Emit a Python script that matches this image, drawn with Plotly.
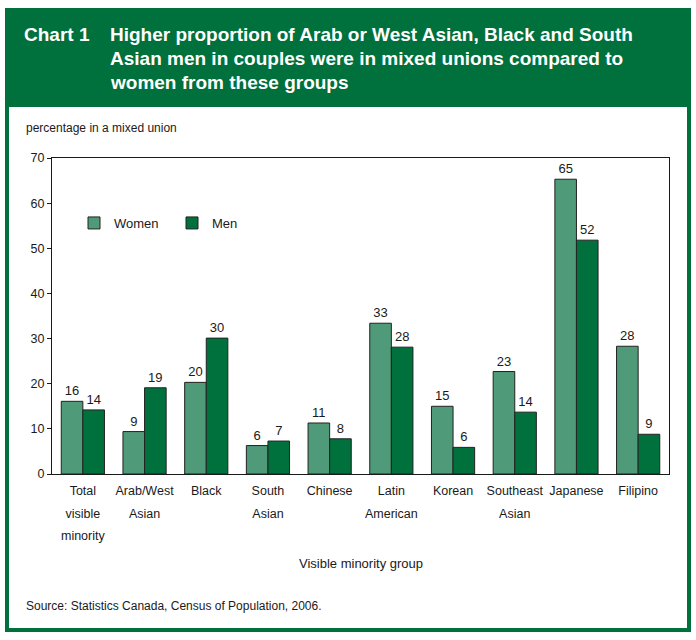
import plotly.graph_objects as go

categories = ["Total<br>visible<br>minority", "Arab/West<br>Asian", "Black", "South<br>Asian",
              "Chinese", "Latin<br>American", "Korean", "Southeast<br>Asian", "Japanese", "Filipino"]
women = [16.1, 9.4, 20.3, 6.3, 11.3, 33.4, 15.0, 22.7, 65.3, 28.3]
men = [14.2, 19.1, 30.1, 7.3, 7.8, 28.1, 5.9, 13.7, 51.8, 8.8]
women_labels = ["16", "9", "20", "6", "11", "33", "15", "23", "65", "28"]
men_labels = ["14", "19", "30", "7", "8", "28", "6", "14", "52", "9"]
y_ticks = [0, 10, 20, 30, 40, 50, 60, 70]
title_lines = ["Higher proportion of Arab or West Asian, Black and South",
               "Asian men in couples were in mixed unions compared to",
               "women from these groups"]

W, H = 696, 640
L, R, T, B = 52, 669, 158, 474
FONT = "Liberation Sans, Arial, sans-serif"
GREEN = "#00703C"
LIGHT = "#4F9A78"
INK = "#1a1a1a"


def px(x):
    return (x - L) / (R - L)


def py(y):
    return (B - y) / (B - T)


def small_lines(label, size=12.5):
    return "<br>".join('<span style="font-size:%spx">%s</span>' % (size, part) for part in label.split("<br>"))


fig = go.Figure()
fig.add_trace(go.Bar(x=categories, y=women, name="Women", marker=dict(color=LIGHT, line=dict(color="#222", width=1)),
                     text=women_labels, textposition="outside", cliponaxis=False,
                     textfont=dict(size=13, color=INK, family=FONT)))
fig.add_trace(go.Bar(x=categories, y=men, name="Men", marker=dict(color=GREEN, line=dict(color="#222", width=1)),
                     text=men_labels, textposition="outside", cliponaxis=False,
                     textfont=dict(size=13, color=INK, family=FONT)))

shapes = [
    dict(type="rect", xref="paper", yref="paper", x0=px(5), x1=px(691), y0=py(107), y1=py(8),
         fillcolor=GREEN, line=dict(width=0), layer="below"),
    dict(type="rect", xref="paper", yref="paper", x0=px(7), x1=px(689), y0=py(630), y1=py(10),
         fillcolor="rgba(0,0,0,0)", line=dict(color=GREEN, width=4), layer="below"),
]

annotations = [
    dict(text="<b>Chart 1</b>", x=px(22), y=py(35), xref="paper", yref="paper", xanchor="left", yanchor="middle",
         showarrow=False, font=dict(size=19, color="white", family=FONT)),
]
for i, line in enumerate(title_lines):
    annotations.append(dict(text="<b>%s</b>" % line, x=px(108), y=py(35 + 23.5 * i), xref="paper", yref="paper",
                            xanchor="left", yanchor="middle", showarrow=False,
                            font=dict(size=19, color="white", family=FONT)))
annotations += [
    dict(text="percentage in a mixed union", x=px(24), y=py(128), xref="paper", yref="paper",
         xanchor="left", yanchor="middle", showarrow=False, font=dict(size=12, color=INK, family=FONT)),
    dict(text="Visible minority group", x=0.5, y=py(563), xref="paper", yref="paper",
         xanchor="center", yanchor="middle", showarrow=False, font=dict(size=13, color=INK, family=FONT)),
    dict(text="Source: Statistics Canada, Census of Population, 2006.", x=px(24), y=py(606), xref="paper", yref="paper",
         xanchor="left", yanchor="middle", showarrow=False, font=dict(size=12, color=INK, family=FONT)),
]

fig.update_layout(
    width=W, height=H,
    margin=dict(l=L, r=W - R, t=T, b=H - B, pad=0),
    paper_bgcolor="white", plot_bgcolor="white",
    barmode="group", bargap=0.3, bargroupgap=0,
    font=dict(family=FONT, size=13, color=INK),
    showlegend=True,
    legend=dict(orientation="h", x=px(74), y=py(208), xanchor="left", yanchor="top",
                bgcolor="rgba(0,0,0,0)", font=dict(size=13, family=FONT), itemwidth=30,
                entrywidth=53, entrywidthmode="pixels", traceorder="normal"),
    shapes=shapes, annotations=annotations,
    xaxis=dict(showline=True, linecolor=INK, linewidth=1, mirror=True, ticks="", showgrid=False,
               tickmode="array", tickvals=categories, ticktext=[small_lines(c) for c in categories],
               tickangle=0, tickfont=dict(size=17, family=FONT, color=INK)),
    yaxis=dict(range=[0, 70], tickvals=y_ticks, showline=True, linecolor=INK, linewidth=1, mirror=True,
               ticks="outside", ticklen=4, tickcolor=INK, showgrid=False, zeroline=False,
               tickfont=dict(size=12.5)),
)

fig.write_html("out.html", config={"displayModeBar": False},
               post_script="document.body.style.margin='0';document.body.style.padding='0';")
